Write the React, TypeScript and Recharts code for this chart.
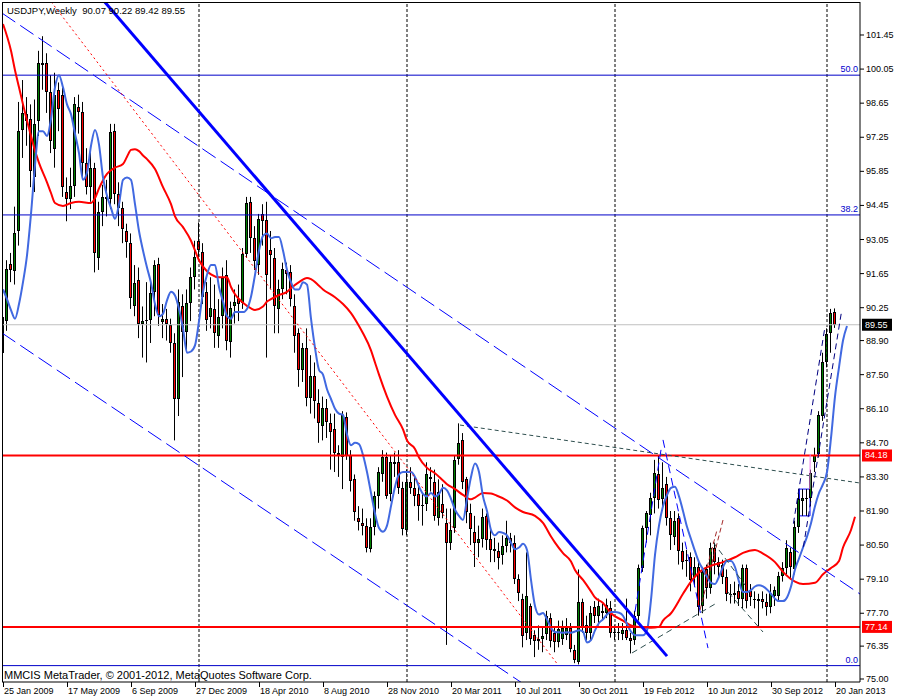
import React from 'react';
import { ComposedChart, Bar, Line, XAxis, YAxis, ReferenceLine, ReferenceArea } from 'recharts';

const FONT = "'Liberation Sans', Arial, sans-serif";

// USDJPY weekly, one bar per week from 25 Jan 2009 to 20 Jan 2013
const openPx = [
  88.4, 89.7, 92.05, 91.75, 93.4, 97.55, 98.2, 98.0, 95.6, 97.9,
  100.3, 100.3, 99.1, 96.75, 99.2, 99.0, 95.0, 94.7, 95.25, 98.5,
  98.3, 96.2, 95.2, 96.0, 92.3, 94.2, 94.8, 94.7, 97.5, 94.9,
  94.35, 93.4, 92.9, 90.3, 91.4, 89.6, 89.7, 89.75, 90.9, 92.05,
  89.65, 89.8, 89.55, 88.8, 86.5, 90.3, 89.25, 90.45, 91.5, 93.0,
  92.55, 90.9, 89.85, 90.2, 89.1, 89.9, 91.6, 88.85, 90.3, 90.6,
  90.45, 92.45, 94.6, 93.1, 92.0, 94.1, 93.85, 92.6, 92.3, 90.2,
  91.0, 91.8, 91.7, 90.3, 89.2, 87.7, 88.6, 86.55, 87.45, 86.35,
  85.4, 86.15, 85.5, 85.25, 84.3, 84.1, 85.75, 84.2, 83.2, 81.6,
  81.4, 81.3, 80.35, 81.25, 82.5, 83.4, 84.1, 82.6, 83.9, 83.9,
  82.85, 81.1, 83.1, 82.85, 82.6, 82.1, 82.2, 83.3, 83.1, 81.6,
  82.2, 81.4, 80.6, 81.2, 84.05, 84.8, 83.2, 81.8, 81.05, 80.6,
  80.75, 81.7, 80.75, 80.35, 80.25, 80.1, 80.45, 80.8, 80.6, 79.1,
  78.3, 76.9, 78.0, 76.8, 76.55, 76.65, 76.85, 77.5, 76.9, 76.5,
  76.65, 76.8, 77.1, 76.2, 75.7, 78.15, 77.2, 76.9, 77.95, 77.6,
  77.8, 77.7, 77.9, 76.95, 76.9, 76.85, 77.0, 76.7, 76.6, 77.6,
  79.55, 81.2, 81.75, 82.45, 83.4, 82.4, 83.0, 81.6, 80.85, 81.6,
  80.25, 79.85, 80.0, 79.2, 79.6, 78.0, 79.5, 78.75, 80.4, 79.8,
  79.7, 79.2, 78.5, 78.45, 78.6, 78.3, 79.55, 78.6, 78.3, 78.2,
  78.3, 78.15, 77.95, 78.4, 78.4, 79.25, 79.55, 80.2, 79.5, 81.25,
  82.3, 82.4, 82.45, 83.9, 84.25, 85.8, 88.0, 89.2, 90.07,
];
const highPx = [
  90.7, 92.2, 92.5, 94.4, 98.7, 99.6, 98.9, 98.6, 98.8, 100.8,
  101.4, 100.7, 99.8, 99.9, 99.5, 99.3, 95.6, 96.0, 98.9, 99.0,
  98.7, 96.8, 96.7, 96.2, 94.6, 95.3, 95.5, 97.8, 97.8, 95.4,
  94.6, 93.7, 93.3, 92.0, 91.9, 90.3, 91.3, 91.3, 92.2, 92.3,
  90.4, 90.2, 89.8, 89.2, 91.0, 90.8, 91.0, 91.9, 93.0, 93.75,
  92.9, 91.3, 91.5, 91.2, 90.6, 91.9, 92.2, 90.5, 91.0, 91.2,
  92.7, 94.8, 94.8, 93.6, 94.1, 94.5, 94.6, 93.4, 92.7, 91.4,
  92.1, 92.1, 92.0, 90.8, 89.4, 88.8, 89.4, 88.3, 88.0, 86.9,
  86.6, 86.5, 85.9, 85.9, 84.6, 86.0, 85.95, 84.4, 83.4, 82.1,
  82.0, 81.6, 81.6, 82.7, 83.7, 84.4, 84.3, 84.2, 84.3, 84.4,
  83.1, 83.6, 83.7, 83.3, 82.9, 82.6, 83.9, 83.7, 83.6, 83.2,
  83.0, 82.0, 82.0, 84.2, 85.5, 85.1, 83.3, 82.2, 81.7, 81.3,
  82.0, 81.8, 81.2, 80.8, 80.6, 80.9, 81.5, 81.0, 80.9, 79.3,
  78.5, 80.2, 78.1, 77.0, 77.2, 77.1, 77.8, 77.7, 77.1, 77.4,
  77.4, 77.5, 77.3, 76.4, 79.5, 78.3, 77.6, 78.0, 78.2, 78.3,
  78.1, 78.3, 78.2, 77.2, 77.3, 77.3, 78.3, 76.9, 77.8, 79.7,
  81.3, 81.9, 82.65, 84.0, 84.18, 83.9, 83.3, 81.9, 81.9, 81.8,
  80.6, 80.3, 80.2, 80.0, 79.9, 79.6, 79.7, 80.6, 80.6, 80.0,
  79.9, 79.5, 78.9, 79.0, 78.9, 79.7, 79.7, 78.9, 78.6, 78.5,
  78.6, 78.5, 78.9, 78.8, 79.4, 79.8, 80.7, 80.4, 81.5, 82.8,
  82.8, 82.8, 83.6, 84.5, 86.0, 88.4, 89.4, 90.2, 90.22,
];
const lowPx = [
  88.0, 89.3, 91.3, 91.2, 92.8, 96.4, 96.9, 95.2, 95.0, 97.3,
  99.2, 98.25, 96.6, 96.0, 97.5, 94.8, 93.8, 94.3, 94.8, 97.4,
  95.5, 94.9, 94.6, 91.7, 91.8, 93.6, 94.0, 94.3, 94.5, 93.6,
  92.9, 92.3, 90.2, 89.9, 89.0, 88.2, 88.0, 88.8, 89.9, 89.5,
  89.0, 88.9, 88.4, 84.8, 85.8, 87.4, 88.5, 89.7, 91.0, 92.3,
  90.4, 89.3, 89.4, 88.6, 88.6, 89.4, 88.5, 88.2, 89.6, 89.7,
  90.2, 92.3, 92.5, 91.8, 91.6, 92.8, 88.2, 91.0, 89.2, 89.2,
  90.6, 90.8, 90.3, 88.4, 87.0, 87.2, 86.2, 85.9, 85.7, 84.7,
  84.8, 84.9, 83.6, 83.5, 83.3, 82.8, 84.0, 82.7, 81.5, 81.1,
  80.9, 80.2, 80.2, 80.9, 82.0, 83.1, 82.4, 82.3, 83.3, 82.6,
  80.9, 80.9, 82.6, 82.1, 81.5, 81.3, 81.9, 82.7, 81.5, 81.3,
  81.6, 76.4, 80.3, 81.0, 83.8, 82.8, 81.4, 80.5, 79.6, 80.0,
  80.4, 80.3, 79.8, 79.8, 79.5, 79.7, 80.2, 80.2, 78.9, 78.2,
  76.3, 76.6, 76.4, 75.9, 76.2, 76.1, 76.6, 76.3, 76.1, 76.3,
  76.4, 76.6, 76.1, 75.65, 75.6, 76.9, 76.6, 76.6, 77.3, 77.2,
  77.4, 77.5, 76.7, 76.6, 76.6, 76.6, 76.6, 76.05, 76.4, 77.4,
  79.4, 80.6, 80.9, 81.8, 82.0, 81.9, 81.3, 80.3, 80.5, 79.7,
  79.5, 79.2, 78.6, 78.8, 77.6, 77.7, 78.3, 78.5, 79.3, 79.2,
  78.9, 78.2, 78.1, 78.1, 78.0, 77.9, 77.9, 78.0, 77.9, 77.13,
  77.9, 77.6, 77.7, 78.0, 78.2, 79.0, 79.3, 79.1, 79.3, 81.0,
  81.7, 81.7, 82.1, 83.5, 84.1, 85.6, 87.8, 88.4, 89.42,
];
const closePx = [
  89.85, 91.85, 91.8, 93.3, 97.5, 98.25, 97.9, 95.85, 97.8, 100.3,
  100.2, 99.1, 97.1, 99.0, 98.4, 95.2, 94.7, 95.25, 98.6, 98.3,
  96.2, 95.2, 96.0, 92.5, 94.2, 94.8, 94.7, 97.45, 94.9, 94.35,
  93.5, 92.95, 90.65, 91.25, 89.6, 89.7, 89.75, 90.85, 92.0, 89.95,
  89.8, 89.6, 88.8, 86.5, 90.5, 89.25, 90.45, 91.5, 92.35, 92.6,
  90.7, 89.75, 90.25, 89.2, 89.85, 91.45, 88.9, 90.25, 90.5, 90.4,
  92.45, 94.55, 93.1, 92.15, 93.9, 93.8, 91.6, 92.4, 90.3, 91.0,
  91.85, 91.65, 90.6, 89.1, 87.7, 88.6, 86.55, 87.45, 86.4, 85.5,
  86.15, 85.55, 85.15, 84.3, 84.2, 85.85, 84.15, 83.15, 81.85, 81.45,
  81.3, 80.4, 81.25, 82.5, 83.5, 84.1, 82.5, 83.9, 83.85, 82.85,
  81.15, 83.1, 82.85, 82.5, 82.1, 82.15, 83.4, 83.2, 81.7, 82.7,
  81.8, 80.6, 81.1, 84.0, 84.7, 83.1, 81.85, 81.15, 80.6, 80.75,
  81.65, 80.7, 80.3, 80.25, 79.97, 80.45, 80.8, 80.6, 79.1, 78.55,
  76.75, 78.4, 76.65, 76.55, 76.65, 76.75, 77.6, 76.55, 76.5, 77.05,
  77.1, 77.1, 76.25, 75.8, 78.15, 77.1, 76.9, 77.7, 77.6, 78.0,
  77.7, 78.05, 76.9, 76.9, 76.95, 77.0, 76.7, 76.55, 77.6, 79.55,
  81.2, 81.8, 82.45, 83.45, 82.35, 82.85, 81.6, 80.9, 81.5, 80.25,
  79.8, 79.9, 79.05, 79.6, 77.95, 79.4, 78.75, 80.4, 79.8, 79.6,
  79.2, 78.5, 78.45, 78.55, 78.3, 79.55, 78.2, 78.35, 78.25, 78.3,
  78.15, 77.95, 78.55, 78.65, 79.25, 79.55, 80.4, 79.6, 81.25, 82.4,
  82.45, 82.45, 83.45, 84.2, 85.85, 88.0, 89.15, 90.05, 89.55,
];

// blue (fast) moving average, shifted forward a few bars
const fastMa = [
  91.0, 90.6, 90.15, 89.8, 90.4, 91.3, 92.4, 94.1, 96.1, 97.5,
  97.5, 97.3, 98.0, 99.3, 99.8, 99.3, 98.6, 98.2, 97.4, 96.6,
  95.5, 95.8, 96.9, 97.55, 96.95, 95.6, 94.85, 94.35, 93.9, 94.5,
  95.5, 95.6, 95.5, 94.5, 93.4, 92.6, 91.9, 91.27, 90.4, 89.9,
  90.0, 90.55, 90.9, 90.75, 90.2, 89.4, 88.4, 88.45, 88.7, 89.7,
  90.9, 91.6, 92.0, 92.0, 91.1, 90.5, 89.9, 89.8, 90.07, 90.07,
  90.07, 90.2, 90.7, 91.6, 92.6, 93.2, 93.3, 93.1, 93.15, 93.15,
  92.6, 91.8, 91.3, 91.0, 91.0, 91.3, 91.2, 89.8, 88.6, 87.7,
  87.5, 86.9, 86.5, 86.1, 85.9, 85.85, 85.05, 84.6, 84.7, 84.65,
  84.2, 83.5, 82.64, 81.8, 81.2, 81.05, 81.3, 82.1, 82.9, 83.4,
  83.5, 83.5, 83.5, 83.3, 82.9, 82.6, 82.5, 82.64, 82.5, 82.6,
  82.85, 82.75, 82.4, 81.95, 81.7, 81.53, 82.4, 83.3, 83.85, 83.5,
  82.5, 81.9, 81.12, 80.9, 81.04, 81.0, 80.9, 80.6, 80.33, 80.4,
  80.55, 80.3, 79.07, 78.0, 77.65, 77.71, 77.45, 77.1, 76.93, 76.92,
  76.9, 76.92, 76.9, 76.95, 77.0, 76.95, 76.5, 76.6, 77.0, 77.3,
  77.45, 77.65, 77.75, 77.75, 77.72, 77.6, 77.25, 76.95, 76.8, 76.8,
  76.8, 77.0, 78.25, 80.1, 81.3, 82.1, 82.55, 82.85, 82.9, 82.5,
  81.9, 81.25, 80.75, 80.25, 79.8, 79.5, 79.2, 78.95, 78.9, 79.2,
  79.6, 79.85, 79.85, 79.6, 79.0, 78.57, 78.57, 78.65, 78.8, 78.85,
  78.8, 78.68, 78.5, 78.3, 78.2, 78.2, 78.35, 78.8, 79.5, 79.95,
  80.4, 80.85, 81.4, 82.1, 82.64, 83.0, 83.5, 84.9, 86.6, 87.8,
  88.9, 89.5,
];

// red (slow) moving average, read at [bar index, value]
const slowMa: [number, number][] = [
  [0, 101.9], [2, 100.8], [3, 100.0], [4, 99.3], [5, 98.6], [7, 97.3], [8, 96.7], [9, 96.2],
  [11, 95.4], [12, 94.96], [13, 94.55], [15, 94.43], [17, 94.55], [19, 94.6], [22, 94.55],
  [23, 94.75], [24, 95.15], [26, 95.75], [28, 96.0], [30, 96.15], [31, 96.45], [32, 96.73],
  [33, 96.76], [34, 96.68], [35, 96.5], [36, 96.35], [38, 95.95], [40, 95.2], [42, 94.5],
  [43, 94.0], [45, 93.56], [47, 93.0], [48, 92.6], [49, 92.2], [51, 91.75], [52, 91.62],
  [54, 91.5], [56, 91.5], [57, 91.1], [58, 90.8], [60, 90.45], [62, 90.22], [63, 90.16],
  [65, 90.3], [66, 90.5], [67, 90.6], [69, 90.77], [71, 90.9], [72, 91.05], [74, 91.3],
  [76, 91.47], [77, 91.42], [79, 91.15], [80, 91.0], [83, 90.68], [85, 90.4], [87, 90.03],
  [89, 89.5], [90, 89.2], [92, 88.5], [93, 88.0], [94, 87.5], [96, 86.6], [98, 85.85],
  [100, 85.25], [101, 84.8], [103, 84.45], [104, 84.1], [106, 83.67], [108, 83.45],
  [110, 83.15], [111, 83.0], [113, 82.8], [115, 82.56], [117, 82.38], [118, 82.45],
  [120, 82.64], [122, 82.62], [123, 82.56], [126, 82.33], [128, 82.05], [130, 81.86],
  [133, 81.7], [135, 81.41], [137, 80.85], [138, 80.6], [140, 80.17], [142, 79.83],
  [143, 79.48], [145, 79.07], [147, 78.6], [148, 78.35], [150, 78.12], [152, 77.7],
  [155, 77.4], [157, 77.2], [159, 77.14], [162, 77.1], [164, 77.14], [165, 77.4],
  [167, 77.7], [170, 78.5], [172, 79.0], [175, 79.5], [177, 79.65], [180, 79.8],
  [183, 80.0], [185, 80.18], [188, 80.3], [190, 80.15], [193, 79.8], [195, 79.4],
  [198, 79.0], [200, 78.9], [203, 78.95], [205, 79.3], [207, 79.56], [209, 79.85],
  [210, 80.4], [212, 81.12], [213, 81.66],
];

const dateLabels = [
  '25 Jan 2009', '17 May 2009', '6 Sep 2009', '27 Dec 2009', '18 Apr 2010',
  '8 Aug 2010', '28 Nov 2010', '20 Mar 2011', '10 Jul 2011', '30 Oct 2011',
  '19 Feb 2012', '10 Jun 2012', '30 Sep 2012', '20 Jan 2013',
];
const dateTicks = dateLabels.map((_, k) => k * 16);
const priceTicks = [
  101.45, 100.05, 98.65, 97.25, 95.85, 94.45, 93.05, 91.65, 90.25, 88.9,
  87.5, 86.1, 84.7, 83.3, 81.9, 80.5, 79.1, 77.7, 76.35, 75.0,
];

const yearStarts = [49, 101, 153, 206];
const fiboLevels: [string, number][] = [['50.0', 99.8], ['38.2', 94.06], ['0.0', 75.55]];
const supportLevels = [84.18, 77.14];
const lastClose = 89.55;

// hand-drawn objects, endpoints as [bar index, price]
const mainTrend = [[25.0, 102.89], [166.0, 75.94]];
const channelTop = [[-0.25, 102.35], [214.25, 78.49]];
const channelBottom = [[-0.25, 89.21], [131.0, 74.7]];
const redDotted = [[12.05, 102.81], [138.75, 75.58]];
const peakLine = [[114.25, 85.43], [214.25, 83.05]];
const fanRight = [[165.0, 84.82], [176.25, 76.27]];
const fanLeft = [[164.5, 84.41], [157.75, 77.51]];
const forkLines = [
  [[157.25, 76.07], [178.0, 78.08]],
  [[177.5, 80.63], [185.5, 78.86]],
  [[181.25, 78.57], [190.0, 76.93]],
];
const brownLines = [
  [[174.25, 77.83], [180.0, 81.53]],
  [[175.5, 79.27], [178.5, 81.12]],
];
const rallyLines = [
  [[197.6, 81.38], [205.5, 89.47]],
  [[200.1, 80.43], [209.7, 90.16]],
];
const pinkLine = [[201.8, 84.24], [201.7, 82.8]];
const rallyBox = { x1: 199.1, x2: 201.75, y1: 81.7, y2: 82.8 };

const rows = Array.from({ length: 214 }, (_, i) => {
  const has = i < openPx.length;
  return {
    i,
    range: has ? [lowPx[i], highPx[i]] : null,
    open: has ? openPx[i] : null,
    high: has ? highPx[i] : null,
    low: has ? lowPx[i] : null,
    close: has ? closePx[i] : null,
    fast: i < fastMa.length ? fastMa[i] : null,
    slow: null as number | null,
  };
});
slowMa.forEach(([i, v]) => {
  rows[i].slow = v;
});

const seg = (s: number[][]) => [
  { x: s[0][0], y: s[0][1] },
  { x: s[1][0], y: s[1][1] },
];

function Candle(props: any) {
  const { x, width, payload } = props;
  let { y, height } = props;
  if (!payload || payload.open == null) return null;
  if (height < 0) {
    y += height;
    height = -height;
  }
  const { open, high, low, close } = payload;
  const k = high > low ? height / (high - low) : 0;
  const px = Math.floor(x + width / 2);
  const yo = y + (high - open) * k;
  const yc = y + (high - close) * k;
  const top = Math.round(Math.min(yo, yc));
  const bottom = Math.round(Math.max(yo, yc));
  const up = close >= open;
  return (
    <g>
      <line x1={px + 0.5} x2={px + 0.5} y1={y} y2={y + height} stroke="#000" strokeWidth={1} />
      {bottom - top < 2 ? (
        <line x1={px - 1} x2={px + 2} y1={top + 0.5} y2={top + 0.5} stroke="#000" strokeWidth={1} />
      ) : (
        <rect
          x={px - 0.5}
          y={top + 0.5}
          width={2}
          height={bottom - top - 1}
          fill={up ? '#008000' : '#FF0000'}
          stroke="#000"
          strokeWidth={1}
        />
      )}
    </g>
  );
}

const PriceTick = (props: any) => {
  const { x, y, payload } = props;
  return (
    <text x={x} y={y} dy={3} fontSize={9} fontFamily={FONT} fill="#000" textAnchor="start">
      {Number(payload.value).toFixed(2)}
    </text>
  );
};

const DateTick = (props: any) => {
  const { x, y, payload } = props;
  const label = dateLabels[dateTicks.indexOf(payload.value)];
  return (
    <g>
      <line x1={x + 0.5} x2={x + 0.5} y1={y} y2={y + 5} stroke="#000" />
      <text x={x + 1} y={y + 12} fontSize={9} fontFamily={FONT} fill="#000" textAnchor="start">
        {label}
      </text>
    </g>
  );
};

const fiboLabel = (text: string) => (props: any) => {
  const vb = props.viewBox || {};
  return (
    <text x={vb.x + vb.width - 2} y={vb.y - 3} fontSize={9} fontFamily={FONT} fill="#0000CD" textAnchor="end">
      {text}
    </text>
  );
};

const priceTag = (value: number, bg: string) => (props: any) => {
  const vb = props.viewBox || {};
  const left = vb.x + vb.width + 2;
  return (
    <g>
      <rect x={left} y={vb.y - 6} width={30} height={12} fill={bg} />
      <text x={left + 3} y={vb.y + 3} fontSize={9} fontFamily={FONT} fill="#fff" textAnchor="start">
        {value.toFixed(2)}
      </text>
    </g>
  );
};

export default function App() {
  return (
    <div style={{ position: 'absolute', left: 0, top: 0, width: 900, height: 700, background: '#fff' }}>
      <ComposedChart
        width={900}
        height={700}
        data={rows}
        margin={{ top: 2, right: 0, left: 2, bottom: 0 }}
      >
        <XAxis
          dataKey="i"
          type="number"
          domain={[-0.25, 214.25]}
          allowDataOverflow
          ticks={dateTicks}
          interval={0}
          height={18}
          axisLine={{ stroke: '#000' }}
          tickLine={false}
          tickSize={0}
          tickMargin={0}
          tick={<DateTick />}
        />
        <YAxis
          orientation="right"
          type="number"
          domain={[74.877, 102.805]}
          allowDataOverflow
          ticks={priceTicks}
          interval={0}
          width={40}
          axisLine={{ stroke: '#000' }}
          tickLine={{ stroke: '#000' }}
          tickSize={4}
          tickMargin={2}
          tick={<PriceTick />}
        />

        {yearStarts.map((v) => (
          <ReferenceLine key={'sep' + v} x={v} stroke="#000" strokeDasharray="3 2" />
        ))}
        <ReferenceLine y={lastClose} stroke="#C0C0C0" label={priceTag(lastClose, '#000')} />
        {fiboLevels.map(([t, v]) => (
          <ReferenceLine key={'fib' + t} y={v} stroke="#0000C8" label={fiboLabel(t)} />
        ))}

        <Bar dataKey="range" shape={Candle} barSize={3} isAnimationActive={false} />

        <Line
          dataKey="slow"
          type="monotone"
          stroke="#FF0000"
          strokeWidth={2}
          dot={false}
          connectNulls
          isAnimationActive={false}
        />
        <Line
          dataKey="fast"
          type="monotone"
          stroke="#4169E1"
          strokeWidth={2}
          dot={false}
          connectNulls
          isAnimationActive={false}
        />

        {supportLevels.map((v) => (
          <ReferenceLine key={'sup' + v} y={v} stroke="#FF0000" strokeWidth={2} label={priceTag(v, '#FF0000')} />
        ))}
        <ReferenceLine segment={seg(channelTop)} stroke="#0000FF" strokeDasharray="16 6" ifOverflow="hidden" />
        <ReferenceLine segment={seg(channelBottom)} stroke="#0000FF" strokeDasharray="16 6" ifOverflow="hidden" />
        <ReferenceLine segment={seg(redDotted)} stroke="#FF0000" strokeDasharray="2 3" ifOverflow="hidden" />
        <ReferenceLine segment={seg(peakLine)} stroke="#2F4F4F" strokeDasharray="4 3" ifOverflow="hidden" />
        <ReferenceLine segment={seg(fanRight)} stroke="#0000FF" strokeDasharray="8 5" ifOverflow="hidden" />
        <ReferenceLine segment={seg(fanLeft)} stroke="#0000FF" strokeDasharray="8 5" ifOverflow="hidden" />
        {forkLines.map((s, k) => (
          <ReferenceLine key={'fork' + k} segment={seg(s)} stroke="#2F4F4F" strokeDasharray="6 4" ifOverflow="hidden" />
        ))}
        {brownLines.map((s, k) => (
          <ReferenceLine key={'br' + k} segment={seg(s)} stroke="#A52A2A" strokeDasharray="5 3" ifOverflow="hidden" />
        ))}
        {rallyLines.map((s, k) => (
          <ReferenceLine key={'ral' + k} segment={seg(s)} stroke="#000080" strokeDasharray="6 4" ifOverflow="hidden" />
        ))}
        <ReferenceLine segment={seg(pinkLine)} stroke="#EE82EE" ifOverflow="hidden" />
        <ReferenceArea
          x1={rallyBox.x1}
          x2={rallyBox.x2}
          y1={rallyBox.y1}
          y2={rallyBox.y2}
          fill="none"
          stroke="#0000FF"
          ifOverflow="hidden"
        />
        <ReferenceLine segment={seg(mainTrend)} stroke="#0000FF" strokeWidth={3} ifOverflow="hidden" />
      </ComposedChart>

      <div
        style={{
          position: 'absolute',
          left: 2,
          top: 2,
          width: 858,
          height: 680,
          borderLeft: '1px solid #000',
          borderTop: '1px solid #000',
          boxSizing: 'border-box',
          pointerEvents: 'none',
        }}
      />
      <div
        style={{
          position: 'absolute',
          left: 7,
          top: 5,
          fontFamily: FONT,
          fontSize: 9.5,
          lineHeight: '12px',
          whiteSpace: 'pre',
          color: '#000',
        }}
      >
        {'USDJPY,Weekly  90.07 90.22 89.42 89.55'}
      </div>
      <div
        style={{
          position: 'absolute',
          left: 4,
          top: 669,
          fontFamily: FONT,
          fontSize: 11,
          lineHeight: '12px',
          whiteSpace: 'pre',
          color: '#000',
        }}
      >
        {'MMCIS MetaTrader, © 2001-2012, MetaQuotes Software Corp.'}
      </div>
    </div>
  );
}
